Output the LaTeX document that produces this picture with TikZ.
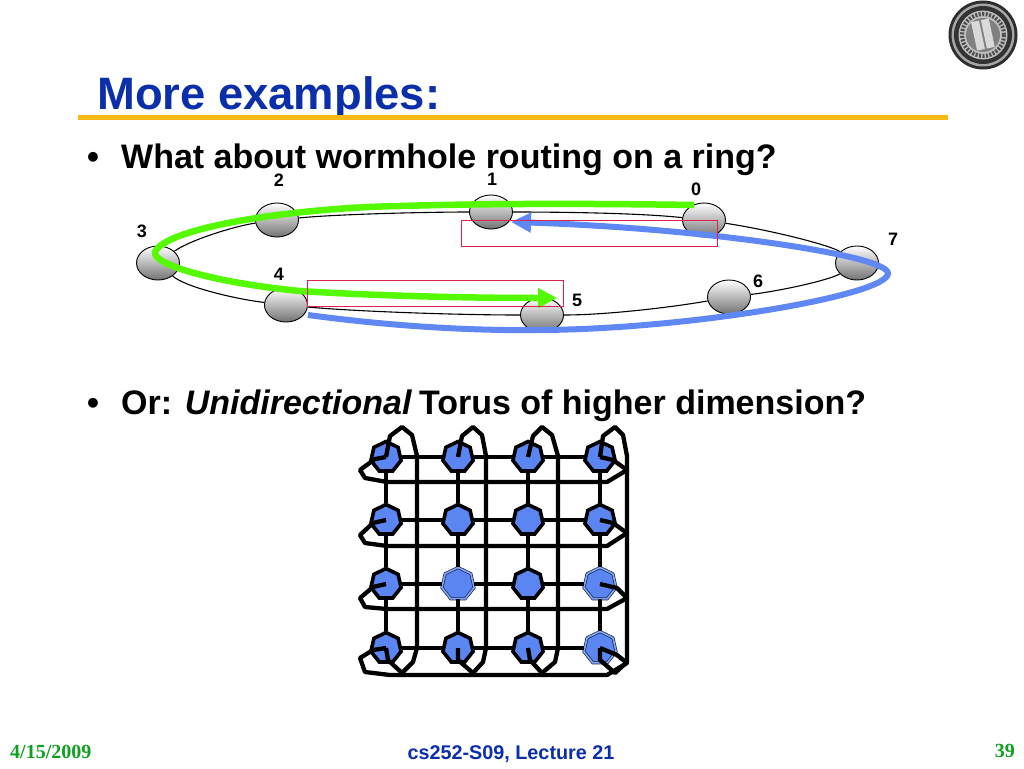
\documentclass[tikz,border=0pt]{standalone}
\usepackage{fontspec}
\setmainfont{Liberation Sans}
\newfontfamily\serifbold[Ligatures=TeX]{Liberation Serif}
\usetikzlibrary{shapes.geometric,arrows.meta}
\definecolor{ringblue}{HTML}{5F88F5}
\definecolor{ringgreen}{HTML}{55FA00}
\definecolor{boxred}{HTML}{E0204E}
\definecolor{titleblue}{HTML}{0B2FAA}
\definecolor{footgreen}{HTML}{10A020}
\definecolor{nodeblue}{HTML}{5B85F0}
\definecolor{rulegold}{HTML}{F9B915}
\tikzset{
  ringnode/.style={ellipse,draw=black,line width=0.9pt,minimum width=43pt,minimum height=34pt,inner sep=0pt,top color=white,bottom color=black!55},
  ringlink/.style={draw=black,line width=1.1pt},
  ringlabel/.style={font=\fontsize{18}{20}\selectfont\bfseries,inner sep=0pt},
  redbox/.style={draw=boxred,line width=1.4pt,fill=none},
  greenpath/.style={draw=ringgreen,line width=6.5pt,line join=round},
  bluepath/.style={draw=ringblue,line width=6pt,line join=round},
  body/.style={font=\fontsize{34}{38}\selectfont\bfseries,anchor=base west,inner sep=0pt},
  tnode/.style={regular polygon,regular polygon sides=7,minimum size=31pt,inner sep=0pt,fill=nodeblue,draw=black,line width=3.6pt},
  talt/.style={regular polygon,regular polygon sides=7,minimum size=33pt,inner sep=0pt,fill=nodeblue,draw=black!70!nodeblue,line width=0.7pt,double=nodeblue!75!white,double distance=1.6pt},
  tgrid/.style={draw=black,line width=3.8pt},
  twrap/.style={draw=black,line width=4.3pt,line join=round},
}
\begin{document}
\begin{tikzpicture}[x=1pt,y=-1pt]
\useasboundingbox (0,0) rectangle (1024,768);
\fill[white] (0,0) rectangle (1024,768);
% seal
\fill[black!82] (983,35) circle (34.5);
\fill[black!35] (983,35) circle (31.5);
\fill[black!80] (983,35) circle (29);
\fill[black!25] (983,35) circle (24.5);
\draw[black!70,line width=4pt,dash pattern=on 2pt off 1.5pt] (983,35) circle (21);
\fill[black!50] (983,35) circle (17);
\fill[black!15,rotate around={12:(983,35)}] (974,20) rectangle (982,49);
\fill[black!15,rotate around={12:(983,35)}] (984,20) rectangle (992,49);
% title
\node[font=\fontsize{45.4}{50}\selectfont\bfseries,text=titleblue,anchor=base west,inner sep=0pt] (title) at (97,109.5) {More examples:};
\fill[rulegold] (78,114.5) rectangle (948,119.5);
% bullets
\node[body] (b1) at (87,168) {•};
\node[body] (t1) at (121,168) {What about wormhole routing on a ring?};
\node[body] (b2) at (87,414) {•};
\node[body] (t2) at (121,414) {Or: \textit{Unidirectional}\hspace{-2.5pt} Torus of higher dimension?};
% ring nodes
\node[ringnode] (n0) at (704,220) {};
\node[ringnode] (n1) at (491,212) {};
\node[ringnode] (n2) at (277,220) {};
\node[ringnode] (n3) at (158,263) {};
\node[ringnode] (n4) at (286,305) {};
\node[ringnode] (n5) at (542,315) {};
\node[ringnode] (n6) at (729,297) {};
\node[ringnode] (n7) at (857,263) {};
\draw[ringlink] (n0) .. controls (640,213) and (560,212) .. (n1);
\draw[ringlink] (n1) .. controls (430,212) and (340,214) .. (n2);
\draw[ringlink] (n2) .. controls (235,226) and (190,240) .. (n3);
\draw[ringlink] (n3) .. controls (185,287) and (235,299) .. (n4);
\draw[ringlink] (n4) .. controls (350,311) and (450,315) .. (n5);
\draw[ringlink] (n5) .. controls (610,315) and (680,306) .. (n6);
\draw[ringlink] (n6) .. controls (780,291) and (830,280) .. (n7);
\draw[ringlink] (n7) .. controls (830,245) and (770,230) .. (n0);
\node[ringlabel] (l0) at (696,189) {0};
\node[ringlabel] (l1) at (492,179) {1};
\node[ringlabel] (l2) at (279,180) {2};
\node[ringlabel] (l3) at (142,231) {3};
\node[ringlabel] (l4) at (279,274) {4};
\node[ringlabel] (l5) at (577,300) {5};
\node[ringlabel] (l6) at (758,281) {6};
\node[ringlabel] (l7) at (893,239) {7};
% green and blue routes
\coordinate (gs) at (694,205);
\coordinate (ge) at (557,298);
\draw[greenpath,-{Triangle[length=19pt,width=19pt]}] (gs) .. controls (560,203) and (470,204) .. (400,206)
  .. controls (290,208) and (165,228) .. (155,252)
  .. controls (152,266) and (225,284) .. (300,291)
  .. controls (380,296) and (470,298) .. (ge);
\coordinate (bs) at (308,315);
\coordinate (be) at (511,222);
\draw[bluepath,-{Triangle[length=20pt,width=19pt]}] (bs) .. controls (390,326) and (470,331) .. (542,330)
  .. controls (690,329) and (890,295) .. (888,273)
  .. controls (886,255) and (700,228) .. (be);
\node[redbox,draw,minimum width=256pt,minimum height=26pt,inner sep=0pt,anchor=north west] (r1) at (461,220) {};
\node[redbox,draw,minimum width=256pt,minimum height=26pt,inner sep=0pt,anchor=north west] (r2) at (307,280) {};
% torus
\foreach \c/\x in {1/386,2/458,3/528,4/600}{
  \foreach \r/\y in {1/457,2/520,3/584,4/648}{
    \node[tnode] (t\c\r) at (\x,\y) {};
  }
}
\node[talt] (t23) at (458,584) {};
\node[talt] (t43) at (600,584) {};
\node[talt] (t44) at (600,648) {};
\foreach \r in {1,2,3,4}{
  \draw[tgrid] (t1\r) -- (t2\r);
  \draw[tgrid] (t2\r) -- (t3\r);
  \draw[tgrid] (t3\r) -- (t4\r);
}
\foreach \c in {1,2,3,4}{
  \draw[tgrid] (t\c1) -- (t\c2);
  \draw[tgrid] (t\c2) -- (t\c3);
  \draw[tgrid] (t\c3) -- (t\c4);
}
% row wraps
\draw[twrap] (t11.center) -- (375,459) -- (360,470) -- (365,478) -- (387,482) -- (607,482) -- (627,470) -- (613,460) -- (t41.center);
\draw[twrap] (t12.center) -- (373,523) -- (360,535) -- (365,543) -- (387,546) -- (607,546) -- (627,533) -- (613,523) -- (t42.center);
\draw[twrap] (t13.center) -- (373,587) -- (360,598) -- (365,607) -- (387,609) -- (607,609) -- (627,598) -- (617,588) -- (t43.center);
\draw[twrap] (t14.center) -- (373,650) -- (360,658) -- (365,672) -- (390,675) -- (607,675) -- (627,663) -- (617,655) -- (t44.center);
% column wraps
\foreach \c/\xa/\xb/\xc/\xd/\xe/\xf/\xg in {1/390/402/412/417/413/402/388, 2/462/473/482/486/483/473/458, 3/533/542/552/558/555/542/530, 4/603/615/623/627/627/615/600}{
  \draw[twrap] (t\c1.center) -- (\xa,436) -- (\xb,427) -- (\xc,435) -- (\xd,456) -- (\xd,648) -- (\xe,662) -- (\xf,673) -- (\xg,660) -- (t\c4.center);
}
% footer
\node[font=\serifbold\fontsize{20}{22}\selectfont\bfseries,text=footgreen,anchor=base west,inner sep=0pt] (date) at (10,758) {4/15/2009};
\node[font=\fontsize{19.8}{22}\selectfont\bfseries,text=titleblue,anchor=base,inner sep=0pt] (lect) at (511,759) {cs252-S09, Lecture 21};
\node[font=\serifbold\fontsize{20}{22}\selectfont\bfseries,text=footgreen,anchor=base east,inner sep=0pt] (pg) at (1015,757) {39};
\end{tikzpicture}
\end{document}
